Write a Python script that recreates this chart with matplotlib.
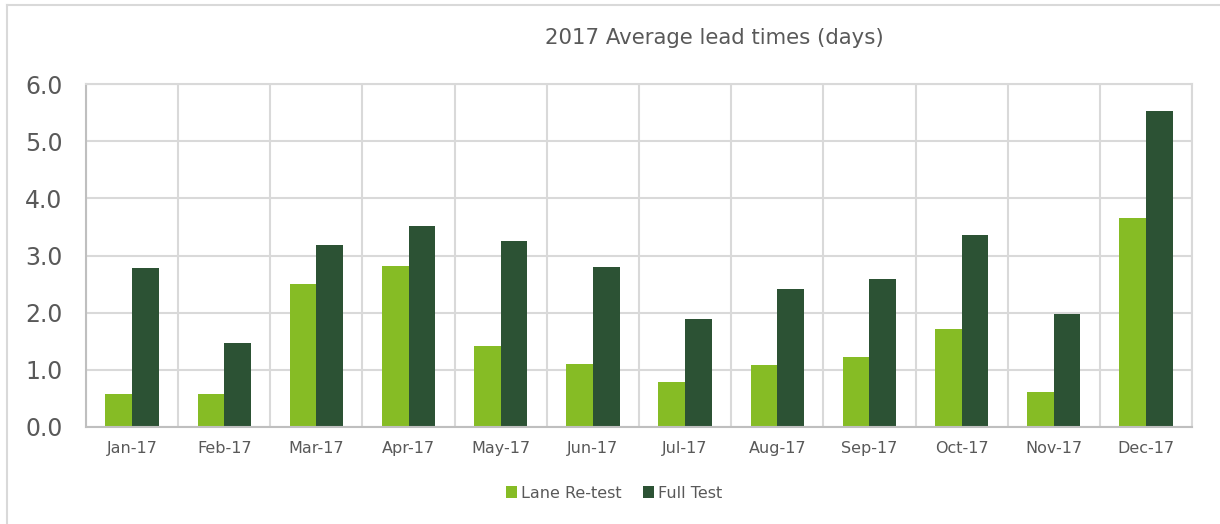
import matplotlib
matplotlib.use("Agg")
import matplotlib.pyplot as plt
import numpy as np
from matplotlib.lines import Line2D

months = ["Jan-17", "Feb-17", "Mar-17", "Apr-17", "May-17", "Jun-17",
          "Jul-17", "Aug-17", "Sep-17", "Oct-17", "Nov-17", "Dec-17"]
lane_retest = [0.57, 0.57, 2.51, 2.81, 1.41, 1.11, 0.79, 1.09, 1.23, 1.72, 0.62, 3.65]
full_test = [2.78, 1.47, 3.19, 3.51, 3.25, 2.80, 1.89, 2.42, 2.59, 3.35, 1.97, 5.53]
yticks = [0.0, 1.0, 2.0, 3.0, 4.0, 5.0, 6.0]

LANE = "#86bc25"
FULL = "#2c5234"
TEXT = "#595959"
GRID = "#d9d9d9"

W, H = 1220, 524
fig = plt.figure(figsize=(W / 100, H / 100), dpi=100)
fig.patch.set_facecolor("white")

left, right, top, bottom = 86, 1192, 84, 427
ax = fig.add_axes([left / W, 1 - bottom / H, (right - left) / W, (bottom - top) / H])

x = np.arange(len(months))
bw = 0.29
ax.bar(x - bw / 2, lane_retest, width=bw, color=LANE, label="Lane Re-test", zorder=3)
ax.bar(x + bw / 2, full_test, width=bw, color=FULL, label="Full Test", zorder=3)

ax.set_xlim(-0.5, len(months) - 0.5)
ax.set_ylim(0, 6)
ax.set_yticks(yticks)
ax.set_yticklabels([f"{v:.1f}" for v in yticks], fontsize=17, color=TEXT)
ax.set_xticks(x)
ax.set_xticklabels(months, fontsize=11.5, color=TEXT)
ax.set_xticks(np.arange(-0.5, len(months), 1.0), minor=True)
ax.tick_params(axis="both", which="both", length=0)
ax.tick_params(axis="x", pad=10)
ax.tick_params(axis="y", pad=17)
ax.grid(axis="y", which="major", color=GRID, linewidth=1.5, zorder=0)
ax.grid(axis="x", which="minor", color=GRID, linewidth=1.5, zorder=0)
ax.grid(axis="x", which="major", visible=False)
for s in ["top", "right"]:
    ax.spines[s].set_color(GRID)
    ax.spines[s].set_linewidth(1.5)
ax.spines["left"].set_color("#bfbfbf")
ax.spines["bottom"].set_color("#bfbfbf")
ax.spines["left"].set_linewidth(1.5)
ax.spines["bottom"].set_linewidth(1.5)
for s in ax.spines.values():
    s.set_zorder(4)

fig.text(714 / W, 1 - 38 / H, "2017 Average lead times (days)", ha="center", va="center",
         fontsize=15.3, color=TEXT)

leg = fig.legend(loc="center", bbox_to_anchor=(614 / W, 1 - 493 / H), ncol=2, frameon=False,
                 fontsize=11.5, handlelength=0.7, handleheight=0.7, handletextpad=0.25,
                 columnspacing=1.3, labelcolor=TEXT)

# outer chart border (top and left edges visible)
fig.add_artist(Line2D([6.5 / W, 6.5 / W], [0, 1 - 5 / H], transform=fig.transFigure,
                      color=GRID, linewidth=1.5))
fig.add_artist(Line2D([6.5 / W, 1], [1 - 5 / H, 1 - 5 / H], transform=fig.transFigure,
                      color=GRID, linewidth=1.5))

fig.savefig("out.png", dpi=100, facecolor="white")
